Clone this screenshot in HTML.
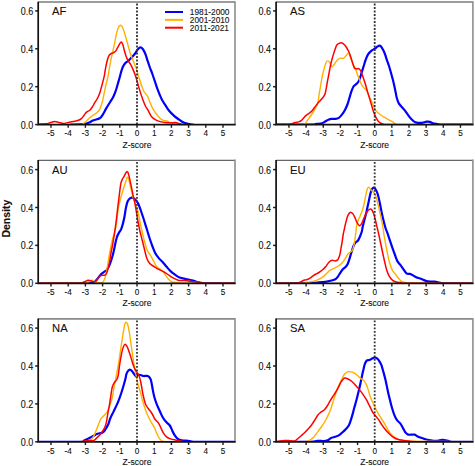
<!DOCTYPE html><html><head><meta charset="utf-8"><style>html,body{margin:0;padding:0;background:#fff}svg{display:block}text{font-family:"Liberation Sans",sans-serif;fill:#111;stroke:#111;stroke-width:0.1px}</style></head><body>
<svg width="475" height="466" viewBox="0 0 475 466">
<rect width="475" height="466" fill="#fff"/>
<g><path d="M38.20,2.00 H235.00" fill="none" stroke="#9c9c9c" stroke-width="1.80"/><path d="M235.00,1.20 V124.60" fill="none" stroke="#8e8e8e" stroke-width="1.6"/><clipPath id="cAF"><rect x="38.20" y="-8.00" width="196.80" height="132.60"/></clipPath><g clip-path="url(#cAF)"><path d="M70.80,124.60 C73.12,124.50 81.75,124.30 84.70,124.00 C87.65,123.70 87.02,123.42 88.50,122.80 C89.98,122.18 91.73,121.05 93.60,120.30 C95.47,119.55 98.15,119.28 99.70,118.30 C101.25,117.32 101.83,116.02 102.90,114.40 C103.97,112.78 104.92,110.63 106.10,108.60 C107.28,106.57 108.82,104.13 110.00,102.20 C111.18,100.27 112.23,98.93 113.20,97.00 C114.17,95.07 115.05,92.73 115.80,90.60 C116.55,88.47 117.07,86.35 117.70,84.20 C118.33,82.05 119.07,79.60 119.60,77.70 C120.13,75.80 120.37,74.58 120.90,72.80 C121.43,71.02 122.05,68.62 122.80,67.00 C123.55,65.38 124.43,64.17 125.40,63.10 C126.37,62.03 127.53,61.57 128.60,60.60 C129.67,59.63 130.72,58.48 131.80,57.30 C132.88,56.12 134.13,54.78 135.10,53.50 C136.07,52.22 136.75,50.62 137.60,49.60 C138.45,48.58 139.33,47.50 140.20,47.40 C141.07,47.30 141.97,47.98 142.80,49.00 C143.63,50.02 144.48,51.78 145.20,53.50 C145.92,55.22 146.35,57.05 147.10,59.30 C147.85,61.55 148.85,64.63 149.70,67.00 C150.55,69.37 151.35,71.13 152.20,73.50 C153.05,75.87 153.93,78.63 154.80,81.20 C155.67,83.77 156.53,86.53 157.40,88.90 C158.27,91.27 159.22,93.53 160.00,95.40 C160.78,97.27 161.22,98.47 162.10,100.10 C162.98,101.73 164.13,103.42 165.30,105.20 C166.47,106.98 167.63,109.02 169.10,110.80 C170.57,112.58 172.42,114.42 174.10,115.90 C175.78,117.38 177.62,118.58 179.20,119.70 C180.78,120.82 182.13,121.90 183.60,122.60 C185.07,123.30 186.43,123.57 188.00,123.90 C189.57,124.23 192.17,124.48 193.00,124.60" fill="none" stroke="#0000ff" stroke-width="2.20" stroke-linejoin="round" stroke-linecap="round"/><path d="M82.80,124.00 C83.33,123.58 84.83,122.55 86.00,121.50 C87.17,120.45 88.70,118.67 89.80,117.70 C90.90,116.73 91.50,116.47 92.60,115.70 C93.70,114.93 95.22,114.17 96.40,113.10 C97.58,112.03 98.73,111.12 99.70,109.30 C100.67,107.48 101.45,104.88 102.20,102.20 C102.95,99.52 103.55,96.20 104.20,93.20 C104.85,90.20 105.47,87.00 106.10,84.20 C106.73,81.40 107.47,78.95 108.00,76.40 C108.53,73.85 108.77,71.87 109.30,68.90 C109.83,65.93 110.55,61.82 111.20,58.60 C111.85,55.38 112.55,52.60 113.20,49.60 C113.85,46.60 114.47,43.60 115.10,40.60 C115.73,37.60 116.35,33.97 117.00,31.60 C117.65,29.23 118.40,27.47 119.00,26.40 C119.60,25.33 120.03,25.08 120.60,25.20 C121.17,25.32 121.82,26.03 122.40,27.10 C122.98,28.17 123.50,29.78 124.10,31.60 C124.70,33.42 125.35,35.75 126.00,38.00 C126.65,40.25 127.35,42.73 128.00,45.10 C128.65,47.47 129.27,50.17 129.90,52.20 C130.53,54.23 131.05,55.37 131.80,57.30 C132.55,59.23 133.63,61.87 134.40,63.80 C135.17,65.73 135.75,66.97 136.40,68.90 C137.05,70.83 137.70,73.47 138.30,75.40 C138.90,77.33 139.40,78.67 140.00,80.50 C140.60,82.33 141.25,84.57 141.90,86.40 C142.55,88.23 143.15,90.12 143.90,91.50 C144.65,92.88 145.68,93.68 146.40,94.70 C147.12,95.72 147.58,96.28 148.20,97.60 C148.82,98.92 149.37,100.82 150.10,102.60 C150.83,104.38 151.55,106.40 152.60,108.30 C153.65,110.20 155.13,112.32 156.40,114.00 C157.67,115.68 159.03,117.35 160.20,118.40 C161.37,119.45 162.23,119.87 163.40,120.30 C164.57,120.73 166.05,120.62 167.20,121.00 C168.35,121.38 168.93,122.18 170.30,122.60 C171.67,123.02 173.72,123.28 175.40,123.50 C177.08,123.72 179.57,123.83 180.40,123.90" fill="none" stroke="#ffb000" stroke-width="1.40" stroke-linejoin="round" stroke-linecap="round"/><path d="M38.50,124.00 C39.68,123.97 43.68,124.00 45.60,123.80 C47.52,123.60 48.53,123.18 50.00,122.80 C51.47,122.42 52.93,121.57 54.40,121.50 C55.87,121.43 57.32,122.08 58.80,122.40 C60.28,122.72 61.72,123.38 63.30,123.40 C64.88,123.42 66.62,122.82 68.30,122.50 C69.98,122.18 71.72,121.87 73.40,121.50 C75.08,121.13 77.03,120.82 78.40,120.30 C79.77,119.78 80.65,119.25 81.60,118.40 C82.55,117.55 83.27,116.25 84.10,115.20 C84.93,114.15 85.65,112.93 86.60,112.10 C87.55,111.27 88.85,111.05 89.80,110.20 C90.75,109.35 91.47,108.27 92.30,107.00 C93.13,105.73 94.00,103.93 94.80,102.60 C95.60,101.27 96.28,100.57 97.10,99.00 C97.92,97.43 98.85,95.67 99.70,93.20 C100.55,90.73 101.45,87.00 102.20,84.20 C102.95,81.40 103.72,78.60 104.20,76.40 C104.68,74.20 104.70,73.23 105.10,71.00 C105.50,68.77 106.03,65.40 106.60,63.00 C107.17,60.60 107.83,58.12 108.50,56.60 C109.17,55.08 109.82,54.53 110.60,53.90 C111.38,53.27 112.33,53.30 113.20,52.80 C114.07,52.30 114.95,51.97 115.80,50.90 C116.65,49.83 117.45,47.87 118.30,46.40 C119.15,44.93 120.15,42.42 120.90,42.10 C121.65,41.78 122.27,43.25 122.80,44.50 C123.33,45.75 123.57,47.68 124.10,49.60 C124.63,51.52 125.35,54.17 126.00,56.00 C126.65,57.83 127.23,59.20 128.00,60.60 C128.77,62.00 129.75,62.90 130.60,64.40 C131.45,65.90 132.25,67.60 133.10,69.60 C133.95,71.60 134.95,74.18 135.70,76.40 C136.45,78.62 136.85,80.32 137.60,82.90 C138.35,85.48 139.33,89.12 140.20,91.90 C141.07,94.68 141.93,97.25 142.80,99.60 C143.67,101.95 144.55,104.28 145.40,106.00 C146.25,107.72 146.90,108.15 147.90,109.90 C148.90,111.65 150.18,114.87 151.40,116.50 C152.62,118.13 153.73,118.85 155.20,119.70 C156.67,120.55 158.52,121.12 160.20,121.60 C161.88,122.08 163.62,122.40 165.30,122.60 C166.98,122.80 168.62,122.80 170.30,122.80 C171.98,122.80 173.72,122.42 175.40,122.60 C177.08,122.78 178.93,123.57 180.40,123.90 C181.87,124.23 183.57,124.48 184.20,124.60" fill="none" stroke="#ff0000" stroke-width="1.50" stroke-linejoin="round" stroke-linecap="round"/></g><line x1="137.00" y1="3.50" x2="137.00" y2="124.60" stroke="#333" stroke-width="1.8" stroke-dasharray="1.9 1.6"/><path d="M38.20,1.70 V124.60 H235.70" fill="none" stroke="#111" stroke-width="1.7"/><line x1="35.20" y1="124.60" x2="38.20" y2="124.60" stroke="#1a1a1a" stroke-width="1.5"/><text transform="translate(33.20,128.60) scale(1,1.12)" font-size="9" text-anchor="end">0.0</text><line x1="35.20" y1="86.70" x2="38.20" y2="86.70" stroke="#1a1a1a" stroke-width="1.5"/><text transform="translate(33.20,90.70) scale(1,1.12)" font-size="9" text-anchor="end">0.2</text><line x1="35.20" y1="48.80" x2="38.20" y2="48.80" stroke="#1a1a1a" stroke-width="1.5"/><text transform="translate(33.20,52.80) scale(1,1.12)" font-size="9" text-anchor="end">0.4</text><line x1="35.20" y1="10.90" x2="38.20" y2="10.90" stroke="#1a1a1a" stroke-width="1.5"/><text transform="translate(33.20,14.90) scale(1,1.12)" font-size="9" text-anchor="end">0.6</text><line x1="51.00" y1="124.60" x2="51.00" y2="127.80" stroke="#1a1a1a" stroke-width="1.4"/><text x="51.00" y="136.40" font-size="8.2" text-anchor="middle">-5</text><line x1="68.20" y1="124.60" x2="68.20" y2="127.80" stroke="#1a1a1a" stroke-width="1.4"/><text x="68.20" y="136.40" font-size="8.2" text-anchor="middle">-4</text><line x1="85.40" y1="124.60" x2="85.40" y2="127.80" stroke="#1a1a1a" stroke-width="1.4"/><text x="85.40" y="136.40" font-size="8.2" text-anchor="middle">-3</text><line x1="102.60" y1="124.60" x2="102.60" y2="127.80" stroke="#1a1a1a" stroke-width="1.4"/><text x="102.60" y="136.40" font-size="8.2" text-anchor="middle">-2</text><line x1="119.80" y1="124.60" x2="119.80" y2="127.80" stroke="#1a1a1a" stroke-width="1.4"/><text x="119.80" y="136.40" font-size="8.2" text-anchor="middle">-1</text><line x1="137.00" y1="124.60" x2="137.00" y2="127.80" stroke="#1a1a1a" stroke-width="1.4"/><text x="137.00" y="136.40" font-size="8.2" text-anchor="middle">0</text><line x1="154.20" y1="124.60" x2="154.20" y2="127.80" stroke="#1a1a1a" stroke-width="1.4"/><text x="154.20" y="136.40" font-size="8.2" text-anchor="middle">1</text><line x1="171.40" y1="124.60" x2="171.40" y2="127.80" stroke="#1a1a1a" stroke-width="1.4"/><text x="171.40" y="136.40" font-size="8.2" text-anchor="middle">2</text><line x1="188.60" y1="124.60" x2="188.60" y2="127.80" stroke="#1a1a1a" stroke-width="1.4"/><text x="188.60" y="136.40" font-size="8.2" text-anchor="middle">3</text><line x1="205.80" y1="124.60" x2="205.80" y2="127.80" stroke="#1a1a1a" stroke-width="1.4"/><text x="205.80" y="136.40" font-size="8.2" text-anchor="middle">4</text><line x1="223.00" y1="124.60" x2="223.00" y2="127.80" stroke="#1a1a1a" stroke-width="1.4"/><text x="223.00" y="136.40" font-size="8.2" text-anchor="middle">5</text><text x="137.00" y="147.60" font-size="8.5" text-anchor="middle">Z-score</text><text x="52.10" y="15.20" font-size="11.2">AF</text></g>
<g><path d="M276.10,2.00 H472.90" fill="none" stroke="#9c9c9c" stroke-width="1.80"/><path d="M472.90,1.20 V124.60" fill="none" stroke="#8e8e8e" stroke-width="1.6"/><clipPath id="cAS"><rect x="276.10" y="-8.00" width="196.80" height="132.60"/></clipPath><g clip-path="url(#cAS)"><path d="M276.50,124.60 C282.08,124.60 303.35,124.72 310.00,124.60 C316.65,124.48 314.42,124.13 316.40,123.90 C318.38,123.67 320.43,123.60 321.90,123.20 C323.37,122.80 324.12,122.08 325.20,121.50 C326.28,120.92 327.32,120.13 328.40,119.70 C329.48,119.27 330.60,119.03 331.70,118.90 C332.80,118.77 333.82,119.07 335.00,118.90 C336.18,118.73 337.65,118.60 338.80,117.90 C339.95,117.20 340.85,116.07 341.90,114.70 C342.95,113.33 344.15,111.48 345.10,109.70 C346.05,107.92 346.87,106.00 347.60,104.00 C348.33,102.00 348.87,99.80 349.50,97.70 C350.13,95.60 350.73,93.27 351.40,91.40 C352.07,89.53 352.77,87.65 353.50,86.50 C354.23,85.35 355.02,85.25 355.80,84.50 C356.58,83.75 357.50,83.08 358.20,82.00 C358.90,80.92 359.42,79.62 360.00,78.00 C360.58,76.38 361.08,74.30 361.70,72.30 C362.32,70.30 363.05,68.05 363.70,66.00 C364.35,63.95 364.85,61.97 365.60,60.00 C366.35,58.03 367.20,55.77 368.20,54.20 C369.20,52.63 370.50,51.52 371.60,50.60 C372.70,49.68 373.83,49.35 374.80,48.70 C375.77,48.05 376.65,47.20 377.40,46.70 C378.15,46.20 378.67,45.70 379.30,45.70 C379.93,45.70 380.55,45.98 381.20,46.70 C381.85,47.42 382.55,48.70 383.20,50.00 C383.85,51.30 384.47,52.78 385.10,54.50 C385.73,56.22 386.35,58.38 387.00,60.30 C387.65,62.22 388.35,63.97 389.00,66.00 C389.65,68.03 390.27,70.23 390.90,72.50 C391.53,74.77 392.22,77.30 392.80,79.60 C393.38,81.90 393.92,84.13 394.40,86.30 C394.88,88.47 395.28,90.60 395.70,92.60 C396.12,94.60 396.38,96.50 396.90,98.30 C397.42,100.10 397.95,101.92 398.80,103.40 C399.65,104.88 400.93,105.95 402.00,107.20 C403.07,108.45 404.15,109.53 405.20,110.90 C406.25,112.27 407.25,114.02 408.30,115.40 C409.35,116.78 410.33,118.05 411.50,119.20 C412.67,120.35 414.03,121.68 415.30,122.30 C416.57,122.92 417.85,122.83 419.10,122.90 C420.35,122.97 421.55,122.90 422.80,122.70 C424.05,122.50 425.43,121.83 426.60,121.70 C427.77,121.57 428.75,121.63 429.80,121.90 C430.85,122.17 431.63,122.95 432.90,123.30 C434.17,123.65 435.72,123.78 437.40,124.00 C439.08,124.22 437.23,124.50 443.00,124.60 C448.77,124.70 467.17,124.60 472.00,124.60" fill="none" stroke="#0000ff" stroke-width="2.20" stroke-linejoin="round" stroke-linecap="round"/><path d="M297.00,124.60 C297.83,124.60 300.68,124.75 302.00,124.60 C303.32,124.45 303.95,124.48 304.90,123.70 C305.85,122.92 306.70,121.27 307.70,119.90 C308.70,118.53 309.90,116.97 310.90,115.50 C311.90,114.03 312.78,112.65 313.70,111.10 C314.62,109.55 315.67,107.83 316.40,106.20 C317.13,104.57 317.65,103.22 318.10,101.30 C318.55,99.38 318.75,96.90 319.10,94.70 C319.45,92.50 319.83,90.28 320.20,88.10 C320.57,85.92 320.92,83.78 321.30,81.60 C321.68,79.42 322.02,77.17 322.50,75.00 C322.98,72.83 323.60,70.73 324.20,68.60 C324.80,66.47 325.47,63.48 326.10,62.20 C326.73,60.92 327.35,60.80 328.00,60.90 C328.65,61.00 329.35,61.83 330.00,62.80 C330.65,63.77 331.27,66.33 331.90,66.70 C332.53,67.07 333.17,65.75 333.80,65.00 C334.43,64.25 334.95,63.20 335.70,62.20 C336.45,61.20 337.43,59.68 338.30,59.00 C339.17,58.32 340.03,58.22 340.90,58.10 C341.77,57.98 342.65,58.70 343.50,58.30 C344.35,57.90 345.18,56.55 346.00,55.70 C346.82,54.85 347.63,52.87 348.40,53.20 C349.17,53.53 349.82,55.88 350.60,57.70 C351.38,59.52 352.25,62.17 353.10,64.10 C353.95,66.03 354.95,67.47 355.70,69.30 C356.45,71.13 356.95,73.38 357.60,75.10 C358.25,76.82 358.95,78.02 359.60,79.60 C360.25,81.18 360.77,83.20 361.50,84.60 C362.23,86.00 363.15,87.03 364.00,88.00 C364.85,88.97 365.75,89.00 366.60,90.40 C367.45,91.80 368.27,94.55 369.10,96.40 C369.93,98.25 370.75,99.70 371.60,101.50 C372.45,103.30 373.35,105.52 374.20,107.20 C375.05,108.88 375.65,110.35 376.70,111.60 C377.75,112.85 379.03,113.65 380.50,114.70 C381.97,115.75 383.87,116.92 385.50,117.90 C387.13,118.88 389.13,119.97 390.30,120.60 C391.47,121.23 391.60,121.13 392.50,121.70 C393.40,122.27 394.45,123.52 395.70,124.00 C396.95,124.48 387.28,124.50 400.00,124.60 C412.72,124.70 460.00,124.60 472.00,124.60" fill="none" stroke="#ffb000" stroke-width="1.40" stroke-linejoin="round" stroke-linecap="round"/><path d="M276.50,124.60 C277.92,124.60 282.98,124.60 285.00,124.60 C287.02,124.60 287.43,124.77 288.60,124.60 C289.77,124.43 290.87,123.93 292.00,123.60 C293.13,123.27 294.28,122.88 295.40,122.60 C296.52,122.32 297.72,122.23 298.70,121.90 C299.68,121.57 300.48,121.25 301.30,120.60 C302.12,119.95 302.80,118.87 303.60,118.00 C304.40,117.13 305.22,116.15 306.10,115.40 C306.98,114.65 307.95,114.23 308.90,113.50 C309.85,112.77 310.90,111.95 311.80,111.00 C312.70,110.05 313.38,108.98 314.30,107.80 C315.22,106.62 316.30,105.12 317.30,103.90 C318.30,102.68 319.35,101.58 320.30,100.50 C321.25,99.42 322.22,98.48 323.00,97.40 C323.78,96.32 324.45,95.55 325.00,94.00 C325.55,92.45 325.90,90.17 326.30,88.10 C326.70,86.03 327.00,83.78 327.40,81.60 C327.80,79.42 328.30,77.10 328.70,75.00 C329.10,72.90 329.38,71.13 329.80,69.00 C330.22,66.87 330.63,64.52 331.20,62.20 C331.77,59.88 332.55,57.25 333.20,55.10 C333.85,52.95 334.47,51.02 335.10,49.30 C335.73,47.58 336.13,45.87 337.00,44.80 C337.87,43.73 339.22,43.05 340.30,42.90 C341.38,42.75 342.55,43.27 343.50,43.90 C344.45,44.53 345.15,45.48 346.00,46.70 C346.85,47.92 347.83,49.58 348.60,51.20 C349.37,52.82 349.95,54.47 350.60,56.40 C351.25,58.33 351.87,60.87 352.50,62.80 C353.13,64.73 353.75,66.98 354.40,68.00 C355.05,69.02 355.68,68.80 356.40,68.90 C357.12,69.00 357.95,68.22 358.70,68.60 C359.45,68.98 360.22,69.90 360.90,71.20 C361.58,72.50 362.17,74.58 362.80,76.40 C363.43,78.22 364.17,80.45 364.70,82.10 C365.23,83.75 365.48,84.55 366.00,86.30 C366.52,88.05 367.18,90.50 367.80,92.60 C368.42,94.70 369.07,96.78 369.70,98.90 C370.33,101.02 370.97,103.18 371.60,105.30 C372.23,107.42 372.75,109.50 373.50,111.60 C374.25,113.70 375.15,116.12 376.10,117.90 C377.05,119.68 378.05,121.28 379.20,122.30 C380.35,123.32 381.53,123.62 383.00,124.00 C384.47,124.38 373.17,124.50 388.00,124.60 C402.83,124.70 458.00,124.60 472.00,124.60" fill="none" stroke="#ff0000" stroke-width="1.50" stroke-linejoin="round" stroke-linecap="round"/></g><line x1="374.70" y1="3.50" x2="374.70" y2="124.60" stroke="#333" stroke-width="1.8" stroke-dasharray="1.9 1.6"/><path d="M276.10,1.70 V124.60 H473.60" fill="none" stroke="#111" stroke-width="1.7"/><line x1="273.10" y1="124.60" x2="276.10" y2="124.60" stroke="#1a1a1a" stroke-width="1.5"/><text transform="translate(271.10,128.60) scale(1,1.12)" font-size="9" text-anchor="end">0.0</text><line x1="273.10" y1="86.70" x2="276.10" y2="86.70" stroke="#1a1a1a" stroke-width="1.5"/><text transform="translate(271.10,90.70) scale(1,1.12)" font-size="9" text-anchor="end">0.2</text><line x1="273.10" y1="48.80" x2="276.10" y2="48.80" stroke="#1a1a1a" stroke-width="1.5"/><text transform="translate(271.10,52.80) scale(1,1.12)" font-size="9" text-anchor="end">0.4</text><line x1="273.10" y1="10.90" x2="276.10" y2="10.90" stroke="#1a1a1a" stroke-width="1.5"/><text transform="translate(271.10,14.90) scale(1,1.12)" font-size="9" text-anchor="end">0.6</text><line x1="288.95" y1="124.60" x2="288.95" y2="127.80" stroke="#1a1a1a" stroke-width="1.4"/><text x="288.95" y="136.40" font-size="8.2" text-anchor="middle">-5</text><line x1="306.10" y1="124.60" x2="306.10" y2="127.80" stroke="#1a1a1a" stroke-width="1.4"/><text x="306.10" y="136.40" font-size="8.2" text-anchor="middle">-4</text><line x1="323.25" y1="124.60" x2="323.25" y2="127.80" stroke="#1a1a1a" stroke-width="1.4"/><text x="323.25" y="136.40" font-size="8.2" text-anchor="middle">-3</text><line x1="340.40" y1="124.60" x2="340.40" y2="127.80" stroke="#1a1a1a" stroke-width="1.4"/><text x="340.40" y="136.40" font-size="8.2" text-anchor="middle">-2</text><line x1="357.55" y1="124.60" x2="357.55" y2="127.80" stroke="#1a1a1a" stroke-width="1.4"/><text x="357.55" y="136.40" font-size="8.2" text-anchor="middle">-1</text><line x1="374.70" y1="124.60" x2="374.70" y2="127.80" stroke="#1a1a1a" stroke-width="1.4"/><text x="374.70" y="136.40" font-size="8.2" text-anchor="middle">0</text><line x1="391.85" y1="124.60" x2="391.85" y2="127.80" stroke="#1a1a1a" stroke-width="1.4"/><text x="391.85" y="136.40" font-size="8.2" text-anchor="middle">1</text><line x1="409.00" y1="124.60" x2="409.00" y2="127.80" stroke="#1a1a1a" stroke-width="1.4"/><text x="409.00" y="136.40" font-size="8.2" text-anchor="middle">2</text><line x1="426.15" y1="124.60" x2="426.15" y2="127.80" stroke="#1a1a1a" stroke-width="1.4"/><text x="426.15" y="136.40" font-size="8.2" text-anchor="middle">3</text><line x1="443.30" y1="124.60" x2="443.30" y2="127.80" stroke="#1a1a1a" stroke-width="1.4"/><text x="443.30" y="136.40" font-size="8.2" text-anchor="middle">4</text><line x1="460.45" y1="124.60" x2="460.45" y2="127.80" stroke="#1a1a1a" stroke-width="1.4"/><text x="460.45" y="136.40" font-size="8.2" text-anchor="middle">5</text><text x="374.70" y="147.60" font-size="8.5" text-anchor="middle">Z-score</text><text x="290.00" y="15.20" font-size="11.2">AS</text></g>
<g><path d="M38.20,160.40 H235.00" fill="none" stroke="#666" stroke-width="1.30"/><path d="M235.00,159.60 V283.30" fill="none" stroke="#8e8e8e" stroke-width="1.6"/><clipPath id="cAU"><rect x="38.20" y="150.40" width="196.80" height="132.90"/></clipPath><g clip-path="url(#cAU)"><path d="M38.50,283.30 C46.25,283.30 76.53,283.30 85.00,283.30 C93.47,283.30 87.73,283.53 89.30,283.30 C90.87,283.07 93.07,282.62 94.40,281.90 C95.73,281.18 96.40,280.05 97.30,279.00 C98.20,277.95 98.95,276.58 99.80,275.60 C100.65,274.62 101.55,273.80 102.40,273.10 C103.25,272.40 104.20,271.88 104.90,271.40 C105.60,270.92 106.03,270.83 106.60,270.20 C107.17,269.57 107.67,268.87 108.30,267.60 C108.93,266.33 109.77,264.28 110.40,262.60 C111.03,260.92 111.63,259.02 112.10,257.50 C112.57,255.98 112.83,254.98 113.20,253.50 C113.57,252.02 113.90,250.48 114.30,248.60 C114.70,246.72 115.15,244.17 115.60,242.20 C116.05,240.23 116.42,238.42 117.00,236.80 C117.58,235.18 118.38,233.83 119.10,232.50 C119.82,231.17 120.63,230.40 121.30,228.80 C121.97,227.20 122.55,225.03 123.10,222.90 C123.65,220.77 124.15,218.40 124.60,216.00 C125.05,213.60 125.33,210.83 125.80,208.50 C126.27,206.17 126.78,203.62 127.40,202.00 C128.02,200.38 128.78,199.53 129.50,198.80 C130.22,198.07 130.98,197.68 131.70,197.60 C132.42,197.52 133.03,197.77 133.80,198.30 C134.57,198.83 135.53,199.85 136.30,200.80 C137.07,201.75 137.65,202.38 138.40,204.00 C139.15,205.62 139.95,208.08 140.80,210.50 C141.65,212.92 142.53,215.50 143.50,218.50 C144.47,221.50 145.57,225.17 146.60,228.50 C147.63,231.83 148.72,235.50 149.70,238.50 C150.68,241.50 151.57,244.05 152.50,246.50 C153.43,248.95 154.22,251.22 155.30,253.20 C156.38,255.18 157.75,256.90 159.00,258.40 C160.25,259.90 161.53,260.80 162.80,262.20 C164.07,263.60 165.32,265.32 166.60,266.80 C167.88,268.28 169.10,269.78 170.50,271.10 C171.90,272.42 173.48,273.63 175.00,274.70 C176.52,275.77 177.82,276.78 179.60,277.50 C181.38,278.22 183.67,278.55 185.70,279.00 C187.73,279.45 190.03,279.75 191.80,280.20 C193.57,280.65 194.93,281.32 196.30,281.70 C197.67,282.08 198.38,282.23 200.00,282.50 C201.62,282.77 200.33,283.17 206.00,283.30 C211.67,283.43 229.33,283.30 234.00,283.30" fill="none" stroke="#0000ff" stroke-width="2.20" stroke-linejoin="round" stroke-linecap="round"/><path d="M38.50,283.30 C46.08,283.30 76.08,283.30 84.00,283.30 C91.92,283.30 85.25,283.55 86.00,283.30 C86.75,283.05 87.60,282.30 88.50,281.80 C89.40,281.30 90.48,280.35 91.40,280.30 C92.32,280.25 93.08,281.15 94.00,281.50 C94.92,281.85 95.85,282.22 96.90,282.40 C97.95,282.58 99.38,282.60 100.30,282.60 C101.22,282.60 101.77,282.78 102.40,282.40 C103.03,282.02 103.62,281.22 104.10,280.30 C104.58,279.38 104.88,278.45 105.30,276.90 C105.72,275.35 106.18,273.10 106.60,271.00 C107.02,268.90 107.45,266.40 107.80,264.30 C108.15,262.20 108.33,260.65 108.70,258.40 C109.07,256.15 109.52,253.32 110.00,250.80 C110.48,248.28 111.07,245.63 111.60,243.30 C112.13,240.97 112.57,239.13 113.20,236.80 C113.83,234.47 114.80,231.93 115.40,229.30 C116.00,226.67 116.40,223.88 116.80,221.00 C117.20,218.12 117.47,214.53 117.80,212.00 C118.13,209.47 118.28,208.27 118.80,205.80 C119.32,203.33 120.18,199.88 120.90,197.20 C121.62,194.52 122.38,192.03 123.10,189.70 C123.82,187.37 124.58,185.08 125.20,183.20 C125.82,181.32 126.38,179.43 126.80,178.40 C127.22,177.37 127.37,176.82 127.70,177.00 C128.03,177.18 128.42,178.20 128.80,179.50 C129.18,180.80 129.52,182.75 130.00,184.80 C130.48,186.85 131.15,189.55 131.70,191.80 C132.25,194.05 132.72,196.35 133.30,198.30 C133.88,200.25 134.48,201.55 135.20,203.50 C135.92,205.45 136.95,207.75 137.60,210.00 C138.25,212.25 138.60,214.50 139.10,217.00 C139.60,219.50 140.05,222.42 140.60,225.00 C141.15,227.58 141.75,229.75 142.40,232.50 C143.05,235.25 143.70,238.53 144.50,241.50 C145.30,244.47 146.18,247.95 147.20,250.30 C148.22,252.65 149.53,253.82 150.60,255.60 C151.67,257.38 152.57,259.13 153.60,261.00 C154.63,262.87 155.52,265.32 156.80,266.80 C158.08,268.28 159.92,268.63 161.30,269.90 C162.68,271.17 163.95,272.88 165.10,274.40 C166.25,275.92 167.05,277.73 168.20,279.00 C169.35,280.27 170.35,281.40 172.00,282.00 C173.65,282.60 175.93,282.38 178.10,282.60 C180.27,282.82 175.68,283.18 185.00,283.30 C194.32,283.42 225.83,283.30 234.00,283.30" fill="none" stroke="#ffb000" stroke-width="1.40" stroke-linejoin="round" stroke-linecap="round"/><path d="M38.50,283.30 C45.42,283.30 72.65,283.42 80.00,283.30 C87.35,283.18 81.75,282.90 82.60,282.60 C83.45,282.30 84.18,281.88 85.10,281.50 C86.02,281.12 87.18,280.43 88.10,280.30 C89.02,280.17 89.77,280.45 90.60,280.70 C91.43,280.95 92.33,281.67 93.10,281.80 C93.87,281.93 94.50,281.97 95.20,281.50 C95.90,281.03 96.60,279.83 97.30,279.00 C98.00,278.17 98.63,277.13 99.40,276.50 C100.17,275.87 101.05,275.42 101.90,275.20 C102.75,274.98 103.78,275.42 104.50,275.20 C105.22,274.98 105.72,274.60 106.20,273.90 C106.68,273.20 106.98,272.33 107.40,271.00 C107.82,269.67 108.28,267.72 108.70,265.90 C109.12,264.08 109.52,262.25 109.90,260.10 C110.28,257.95 110.53,255.63 111.00,253.00 C111.47,250.37 112.18,247.17 112.70,244.30 C113.22,241.43 113.65,238.65 114.10,235.80 C114.55,232.95 115.00,230.07 115.40,227.20 C115.80,224.33 116.12,221.82 116.50,218.60 C116.88,215.38 117.32,211.12 117.70,207.90 C118.08,204.68 118.45,202.15 118.80,199.30 C119.15,196.45 119.45,193.48 119.80,190.80 C120.15,188.12 120.45,185.18 120.90,183.20 C121.35,181.22 121.97,180.05 122.50,178.90 C123.03,177.75 123.55,177.28 124.10,176.30 C124.65,175.32 125.32,173.82 125.80,173.00 C126.28,172.18 126.62,171.45 127.00,171.40 C127.38,171.35 127.73,171.80 128.10,172.70 C128.47,173.60 128.78,175.05 129.20,176.80 C129.62,178.55 130.10,180.87 130.60,183.20 C131.10,185.53 131.72,188.42 132.20,190.80 C132.68,193.18 133.07,195.55 133.50,197.50 C133.93,199.45 134.33,200.17 134.80,202.50 C135.27,204.83 135.80,208.50 136.30,211.50 C136.80,214.50 137.18,217.17 137.80,220.50 C138.42,223.83 139.25,228.17 140.00,231.50 C140.75,234.83 141.55,237.50 142.30,240.50 C143.05,243.50 143.75,246.53 144.50,249.50 C145.25,252.47 145.92,255.95 146.80,258.30 C147.68,260.65 148.52,262.18 149.80,263.60 C151.08,265.02 152.83,265.75 154.50,266.80 C156.17,267.85 158.15,269.02 159.80,269.90 C161.45,270.78 162.88,271.22 164.40,272.10 C165.92,272.98 167.38,274.18 168.90,275.20 C170.42,276.22 171.97,277.37 173.50,278.20 C175.03,279.03 176.58,279.82 178.10,280.20 C179.62,280.58 181.08,280.40 182.60,280.50 C184.12,280.60 185.55,280.60 187.20,280.80 C188.85,281.00 190.72,281.50 192.50,281.70 C194.28,281.90 196.15,281.73 197.90,282.00 C199.65,282.27 200.98,283.08 203.00,283.30 C205.02,283.52 204.83,283.30 210.00,283.30 C215.17,283.30 230.00,283.30 234.00,283.30" fill="none" stroke="#ff0000" stroke-width="1.50" stroke-linejoin="round" stroke-linecap="round"/></g><line x1="137.00" y1="161.90" x2="137.00" y2="283.30" stroke="#333" stroke-width="1.8" stroke-dasharray="1.9 1.6"/><path d="M38.20,160.10 V283.30 H235.70" fill="none" stroke="#111" stroke-width="1.7"/><line x1="35.20" y1="283.30" x2="38.20" y2="283.30" stroke="#1a1a1a" stroke-width="1.5"/><text transform="translate(33.20,287.30) scale(1,1.12)" font-size="9" text-anchor="end">0.0</text><line x1="35.20" y1="245.40" x2="38.20" y2="245.40" stroke="#1a1a1a" stroke-width="1.5"/><text transform="translate(33.20,249.40) scale(1,1.12)" font-size="9" text-anchor="end">0.2</text><line x1="35.20" y1="207.50" x2="38.20" y2="207.50" stroke="#1a1a1a" stroke-width="1.5"/><text transform="translate(33.20,211.50) scale(1,1.12)" font-size="9" text-anchor="end">0.4</text><line x1="35.20" y1="169.60" x2="38.20" y2="169.60" stroke="#1a1a1a" stroke-width="1.5"/><text transform="translate(33.20,173.60) scale(1,1.12)" font-size="9" text-anchor="end">0.6</text><line x1="51.00" y1="283.30" x2="51.00" y2="286.50" stroke="#1a1a1a" stroke-width="1.4"/><text x="51.00" y="295.10" font-size="8.2" text-anchor="middle">-5</text><line x1="68.20" y1="283.30" x2="68.20" y2="286.50" stroke="#1a1a1a" stroke-width="1.4"/><text x="68.20" y="295.10" font-size="8.2" text-anchor="middle">-4</text><line x1="85.40" y1="283.30" x2="85.40" y2="286.50" stroke="#1a1a1a" stroke-width="1.4"/><text x="85.40" y="295.10" font-size="8.2" text-anchor="middle">-3</text><line x1="102.60" y1="283.30" x2="102.60" y2="286.50" stroke="#1a1a1a" stroke-width="1.4"/><text x="102.60" y="295.10" font-size="8.2" text-anchor="middle">-2</text><line x1="119.80" y1="283.30" x2="119.80" y2="286.50" stroke="#1a1a1a" stroke-width="1.4"/><text x="119.80" y="295.10" font-size="8.2" text-anchor="middle">-1</text><line x1="137.00" y1="283.30" x2="137.00" y2="286.50" stroke="#1a1a1a" stroke-width="1.4"/><text x="137.00" y="295.10" font-size="8.2" text-anchor="middle">0</text><line x1="154.20" y1="283.30" x2="154.20" y2="286.50" stroke="#1a1a1a" stroke-width="1.4"/><text x="154.20" y="295.10" font-size="8.2" text-anchor="middle">1</text><line x1="171.40" y1="283.30" x2="171.40" y2="286.50" stroke="#1a1a1a" stroke-width="1.4"/><text x="171.40" y="295.10" font-size="8.2" text-anchor="middle">2</text><line x1="188.60" y1="283.30" x2="188.60" y2="286.50" stroke="#1a1a1a" stroke-width="1.4"/><text x="188.60" y="295.10" font-size="8.2" text-anchor="middle">3</text><line x1="205.80" y1="283.30" x2="205.80" y2="286.50" stroke="#1a1a1a" stroke-width="1.4"/><text x="205.80" y="295.10" font-size="8.2" text-anchor="middle">4</text><line x1="223.00" y1="283.30" x2="223.00" y2="286.50" stroke="#1a1a1a" stroke-width="1.4"/><text x="223.00" y="295.10" font-size="8.2" text-anchor="middle">5</text><text x="137.00" y="306.30" font-size="8.5" text-anchor="middle">Z-score</text><text x="52.10" y="173.60" font-size="11.2">AU</text></g>
<g><path d="M276.10,160.40 H472.90" fill="none" stroke="#666" stroke-width="1.30"/><path d="M472.90,159.60 V283.30" fill="none" stroke="#8e8e8e" stroke-width="1.6"/><clipPath id="cEU"><rect x="276.10" y="150.40" width="196.80" height="132.90"/></clipPath><g clip-path="url(#cEU)"><path d="M276.50,283.30 C281.25,283.30 298.15,283.43 305.00,283.30 C311.85,283.17 314.23,282.75 317.60,282.50 C320.97,282.25 322.88,282.13 325.20,281.80 C327.52,281.47 329.82,280.92 331.50,280.50 C333.18,280.08 334.25,279.93 335.30,279.30 C336.35,278.67 336.97,277.77 337.80,276.70 C338.63,275.63 339.47,274.15 340.30,272.90 C341.13,271.65 341.85,270.25 342.80,269.20 C343.75,268.15 345.15,267.55 346.00,266.60 C346.85,265.65 347.27,264.97 347.90,263.50 C348.53,262.03 349.17,259.80 349.80,257.80 C350.43,255.80 351.07,253.50 351.70,251.50 C352.33,249.50 352.97,247.28 353.60,245.80 C354.23,244.32 354.77,243.48 355.50,242.60 C356.23,241.72 357.25,241.52 358.00,240.50 C358.75,239.48 359.37,238.00 360.00,236.50 C360.63,235.00 361.33,233.20 361.80,231.50 C362.27,229.80 362.30,228.45 362.80,226.30 C363.30,224.15 364.15,221.17 364.80,218.60 C365.45,216.03 366.07,213.68 366.70,210.90 C367.33,208.12 367.95,204.90 368.60,201.90 C369.25,198.90 370.02,195.05 370.60,192.90 C371.18,190.75 371.57,189.88 372.10,189.00 C372.63,188.12 373.20,187.52 373.80,187.60 C374.40,187.68 375.05,188.43 375.70,189.50 C376.35,190.57 377.05,191.93 377.70,194.00 C378.35,196.07 378.95,198.87 379.60,201.90 C380.25,204.93 380.92,208.98 381.60,212.20 C382.28,215.42 383.05,218.57 383.70,221.20 C384.35,223.83 384.92,226.13 385.50,228.00 C386.08,229.87 386.48,230.37 387.20,232.40 C387.92,234.43 388.93,237.62 389.80,240.20 C390.67,242.78 391.53,245.43 392.40,247.90 C393.27,250.37 394.15,252.75 395.00,255.00 C395.85,257.25 396.55,259.68 397.50,261.40 C398.45,263.12 399.73,264.02 400.70,265.30 C401.67,266.58 402.33,267.75 403.30,269.10 C404.27,270.45 405.42,272.60 406.50,273.40 C407.58,274.20 408.83,273.65 409.80,273.90 C410.77,274.15 411.23,274.35 412.30,274.90 C413.37,275.45 414.90,276.60 416.20,277.20 C417.50,277.80 418.82,278.02 420.10,278.50 C421.38,278.98 422.62,279.62 423.90,280.10 C425.18,280.58 426.52,281.15 427.80,281.40 C429.08,281.65 430.40,281.57 431.60,281.60 C432.80,281.63 433.77,281.43 435.00,281.60 C436.23,281.77 437.33,282.32 439.00,282.60 C440.67,282.88 439.50,283.18 445.00,283.30 C450.50,283.42 467.50,283.30 472.00,283.30" fill="none" stroke="#0000ff" stroke-width="2.20" stroke-linejoin="round" stroke-linecap="round"/><path d="M276.50,283.30 C280.92,283.30 298.03,283.45 303.00,283.30 C307.97,283.15 305.18,282.62 306.30,282.40 C307.42,282.18 308.57,282.17 309.70,282.00 C310.83,281.83 312.05,281.63 313.10,281.40 C314.15,281.17 314.83,281.07 316.00,280.60 C317.17,280.13 318.78,279.35 320.10,278.60 C321.42,277.85 322.73,277.05 323.90,276.10 C325.07,275.15 326.05,273.88 327.10,272.90 C328.15,271.92 328.95,271.00 330.20,270.20 C331.45,269.40 333.23,268.80 334.60,268.10 C335.97,267.40 337.13,266.88 338.40,266.00 C339.67,265.12 341.03,264.07 342.20,262.80 C343.37,261.53 344.45,259.87 345.40,258.40 C346.35,256.93 346.95,255.15 347.90,254.00 C348.85,252.85 350.27,252.35 351.10,251.50 C351.93,250.65 352.38,250.17 352.90,248.90 C353.42,247.63 353.82,245.78 354.20,243.90 C354.58,242.02 354.88,239.92 355.20,237.60 C355.52,235.28 355.80,232.30 356.10,230.00 C356.40,227.70 356.52,225.70 357.00,223.80 C357.48,221.90 358.35,220.22 359.00,218.60 C359.65,216.98 360.27,215.70 360.90,214.10 C361.53,212.50 362.20,211.03 362.80,209.00 C363.40,206.97 363.97,204.37 364.50,201.90 C365.03,199.43 365.53,196.35 366.00,194.20 C366.47,192.05 366.87,190.18 367.30,189.00 C367.73,187.82 368.10,187.10 368.60,187.10 C369.10,187.10 369.62,188.25 370.30,189.00 C370.98,189.75 371.88,190.68 372.70,191.60 C373.52,192.52 374.47,193.00 375.20,194.50 C375.93,196.00 376.43,198.08 377.10,200.60 C377.77,203.12 378.47,206.38 379.20,209.60 C379.93,212.82 380.83,216.67 381.50,219.90 C382.17,223.13 382.78,226.48 383.20,229.00 C383.62,231.52 383.55,232.28 384.00,235.00 C384.45,237.72 385.25,241.87 385.90,245.30 C386.55,248.73 387.25,252.60 387.90,255.60 C388.55,258.60 389.05,260.83 389.80,263.30 C390.55,265.77 391.43,268.57 392.40,270.40 C393.37,272.23 394.53,272.90 395.60,274.30 C396.67,275.70 397.73,277.58 398.80,278.80 C399.87,280.02 400.82,280.97 402.00,281.60 C403.18,282.23 404.23,282.32 405.90,282.60 C407.57,282.88 400.98,283.18 412.00,283.30 C423.02,283.42 462.00,283.30 472.00,283.30" fill="none" stroke="#ffb000" stroke-width="1.40" stroke-linejoin="round" stroke-linecap="round"/><path d="M276.50,283.30 C279.58,283.30 291.57,283.30 295.00,283.30 C298.43,283.30 296.20,283.52 297.10,283.30 C298.00,283.08 299.42,282.43 300.40,282.00 C301.38,281.57 302.15,281.05 303.00,280.70 C303.85,280.35 304.67,280.15 305.50,279.90 C306.33,279.65 307.17,279.55 308.00,279.20 C308.83,278.85 309.60,278.40 310.50,277.80 C311.40,277.20 312.48,276.23 313.40,275.60 C314.32,274.97 315.20,274.43 316.00,274.00 C316.80,273.57 317.10,273.70 318.20,273.00 C319.30,272.30 321.33,270.87 322.60,269.80 C323.87,268.73 324.75,267.87 325.80,266.60 C326.85,265.33 327.85,263.25 328.90,262.20 C329.95,261.15 331.03,260.52 332.10,260.30 C333.17,260.08 334.35,261.00 335.30,260.90 C336.25,260.80 337.07,260.63 337.80,259.70 C338.53,258.77 339.18,257.10 339.70,255.30 C340.22,253.50 340.48,251.22 340.90,248.90 C341.32,246.58 341.80,243.88 342.20,241.40 C342.60,238.92 342.93,236.07 343.30,234.00 C343.67,231.93 344.03,230.70 344.40,229.00 C344.77,227.30 345.00,225.85 345.50,223.80 C346.00,221.75 346.77,218.47 347.40,216.70 C348.03,214.93 348.67,213.92 349.30,213.20 C349.93,212.48 350.55,212.25 351.20,212.40 C351.85,212.55 352.55,213.17 353.20,214.10 C353.85,215.03 354.47,216.60 355.10,218.00 C355.73,219.40 356.28,221.22 357.00,222.50 C357.72,223.78 358.65,225.48 359.40,225.70 C360.15,225.92 360.82,224.87 361.50,223.80 C362.18,222.73 362.85,220.80 363.50,219.30 C364.15,217.80 364.65,216.25 365.40,214.80 C366.15,213.35 367.13,211.57 368.00,210.60 C368.87,209.63 369.85,208.95 370.60,209.00 C371.35,209.05 371.87,209.73 372.50,210.90 C373.13,212.07 373.77,213.85 374.40,216.00 C375.03,218.15 375.78,221.63 376.30,223.80 C376.82,225.97 377.07,227.13 377.50,229.00 C377.93,230.87 378.35,232.50 378.90,235.00 C379.45,237.50 380.17,241.00 380.80,244.00 C381.43,247.00 382.05,250.00 382.70,253.00 C383.35,256.00 384.05,259.20 384.70,262.00 C385.35,264.80 385.85,267.43 386.60,269.80 C387.35,272.17 388.23,274.48 389.20,276.20 C390.17,277.92 391.23,279.13 392.40,280.10 C393.57,281.07 394.82,281.58 396.20,282.00 C397.58,282.42 398.40,282.38 400.70,282.60 C403.00,282.82 398.12,283.18 410.00,283.30 C421.88,283.42 461.67,283.30 472.00,283.30" fill="none" stroke="#ff0000" stroke-width="1.50" stroke-linejoin="round" stroke-linecap="round"/></g><line x1="374.70" y1="161.90" x2="374.70" y2="283.30" stroke="#333" stroke-width="1.8" stroke-dasharray="1.9 1.6"/><path d="M276.10,160.10 V283.30 H473.60" fill="none" stroke="#111" stroke-width="1.7"/><line x1="273.10" y1="283.30" x2="276.10" y2="283.30" stroke="#1a1a1a" stroke-width="1.5"/><text transform="translate(271.10,287.30) scale(1,1.12)" font-size="9" text-anchor="end">0.0</text><line x1="273.10" y1="245.40" x2="276.10" y2="245.40" stroke="#1a1a1a" stroke-width="1.5"/><text transform="translate(271.10,249.40) scale(1,1.12)" font-size="9" text-anchor="end">0.2</text><line x1="273.10" y1="207.50" x2="276.10" y2="207.50" stroke="#1a1a1a" stroke-width="1.5"/><text transform="translate(271.10,211.50) scale(1,1.12)" font-size="9" text-anchor="end">0.4</text><line x1="273.10" y1="169.60" x2="276.10" y2="169.60" stroke="#1a1a1a" stroke-width="1.5"/><text transform="translate(271.10,173.60) scale(1,1.12)" font-size="9" text-anchor="end">0.6</text><line x1="288.95" y1="283.30" x2="288.95" y2="286.50" stroke="#1a1a1a" stroke-width="1.4"/><text x="288.95" y="295.10" font-size="8.2" text-anchor="middle">-5</text><line x1="306.10" y1="283.30" x2="306.10" y2="286.50" stroke="#1a1a1a" stroke-width="1.4"/><text x="306.10" y="295.10" font-size="8.2" text-anchor="middle">-4</text><line x1="323.25" y1="283.30" x2="323.25" y2="286.50" stroke="#1a1a1a" stroke-width="1.4"/><text x="323.25" y="295.10" font-size="8.2" text-anchor="middle">-3</text><line x1="340.40" y1="283.30" x2="340.40" y2="286.50" stroke="#1a1a1a" stroke-width="1.4"/><text x="340.40" y="295.10" font-size="8.2" text-anchor="middle">-2</text><line x1="357.55" y1="283.30" x2="357.55" y2="286.50" stroke="#1a1a1a" stroke-width="1.4"/><text x="357.55" y="295.10" font-size="8.2" text-anchor="middle">-1</text><line x1="374.70" y1="283.30" x2="374.70" y2="286.50" stroke="#1a1a1a" stroke-width="1.4"/><text x="374.70" y="295.10" font-size="8.2" text-anchor="middle">0</text><line x1="391.85" y1="283.30" x2="391.85" y2="286.50" stroke="#1a1a1a" stroke-width="1.4"/><text x="391.85" y="295.10" font-size="8.2" text-anchor="middle">1</text><line x1="409.00" y1="283.30" x2="409.00" y2="286.50" stroke="#1a1a1a" stroke-width="1.4"/><text x="409.00" y="295.10" font-size="8.2" text-anchor="middle">2</text><line x1="426.15" y1="283.30" x2="426.15" y2="286.50" stroke="#1a1a1a" stroke-width="1.4"/><text x="426.15" y="295.10" font-size="8.2" text-anchor="middle">3</text><line x1="443.30" y1="283.30" x2="443.30" y2="286.50" stroke="#1a1a1a" stroke-width="1.4"/><text x="443.30" y="295.10" font-size="8.2" text-anchor="middle">4</text><line x1="460.45" y1="283.30" x2="460.45" y2="286.50" stroke="#1a1a1a" stroke-width="1.4"/><text x="460.45" y="295.10" font-size="8.2" text-anchor="middle">5</text><text x="374.70" y="306.30" font-size="8.5" text-anchor="middle">Z-score</text><text x="290.00" y="173.60" font-size="11.2">EU</text></g>
<g><path d="M38.20,318.90 H235.00" fill="none" stroke="#8a8a8a" stroke-width="1.60"/><path d="M235.00,318.10 V441.80" fill="none" stroke="#8e8e8e" stroke-width="1.6"/><clipPath id="cNA"><rect x="38.20" y="308.90" width="196.80" height="132.90"/></clipPath><g clip-path="url(#cNA)"><path d="M38.50,441.80 C45.42,441.80 72.38,442.02 80.00,441.80 C87.62,441.58 82.97,440.98 84.20,440.50 C85.43,440.02 86.35,439.42 87.40,438.90 C88.45,438.38 89.45,437.92 90.50,437.40 C91.55,436.88 92.65,436.37 93.70,435.80 C94.75,435.23 95.83,434.42 96.80,434.00 C97.77,433.58 98.53,433.55 99.50,433.30 C100.47,433.05 101.73,432.97 102.60,432.50 C103.47,432.03 104.03,431.33 104.70,430.50 C105.37,429.67 105.95,428.67 106.60,427.50 C107.25,426.33 108.00,425.00 108.60,423.50 C109.20,422.00 109.33,420.57 110.20,418.50 C111.07,416.43 112.45,413.97 113.80,411.10 C115.15,408.23 117.05,404.32 118.30,401.30 C119.55,398.28 120.42,395.63 121.30,393.00 C122.18,390.37 122.90,387.92 123.60,385.50 C124.30,383.08 125.03,380.40 125.50,378.50 C125.97,376.60 125.97,375.37 126.40,374.10 C126.83,372.83 127.52,371.65 128.10,370.90 C128.68,370.15 129.27,369.60 129.90,369.60 C130.53,369.60 131.20,370.15 131.90,370.90 C132.60,371.65 133.37,373.15 134.10,374.10 C134.83,375.05 135.65,376.45 136.30,376.60 C136.95,376.75 137.28,375.27 138.00,375.00 C138.72,374.73 139.68,374.83 140.60,375.00 C141.52,375.17 142.43,375.85 143.50,376.00 C144.57,376.15 146.05,375.73 147.00,375.90 C147.95,376.07 148.55,376.32 149.20,377.00 C149.85,377.68 150.42,378.50 150.90,380.00 C151.38,381.50 151.70,383.92 152.10,386.00 C152.50,388.08 152.88,390.50 153.30,392.50 C153.72,394.50 154.00,395.98 154.60,398.00 C155.20,400.02 155.98,402.30 156.90,404.60 C157.82,406.90 159.03,409.52 160.10,411.80 C161.17,414.08 162.23,416.55 163.30,418.30 C164.37,420.05 165.42,421.10 166.50,422.30 C167.58,423.50 168.85,424.15 169.80,425.50 C170.75,426.85 171.40,428.78 172.20,430.40 C173.00,432.02 173.67,433.78 174.60,435.20 C175.53,436.62 176.60,438.05 177.80,438.90 C179.00,439.75 180.05,439.98 181.80,440.30 C183.55,440.62 186.42,440.55 188.30,440.80 C190.18,441.05 191.15,441.63 193.10,441.80 C195.05,441.97 193.18,441.80 200.00,441.80 C206.82,441.80 228.33,441.80 234.00,441.80" fill="none" stroke="#0000ff" stroke-width="2.20" stroke-linejoin="round" stroke-linecap="round"/><path d="M38.50,441.80 C46.08,441.80 75.85,441.98 84.00,441.80 C92.15,441.62 86.13,441.18 87.40,440.70 C88.67,440.22 90.47,439.80 91.60,438.90 C92.73,438.00 93.42,436.78 94.20,435.30 C94.98,433.82 95.60,431.77 96.30,430.00 C97.00,428.23 97.70,426.45 98.40,424.70 C99.10,422.95 99.82,420.78 100.50,419.50 C101.18,418.22 101.78,417.78 102.50,417.00 C103.22,416.22 103.92,415.78 104.80,414.80 C105.68,413.82 106.93,412.73 107.80,411.10 C108.67,409.47 109.25,407.27 110.00,405.00 C110.75,402.73 111.67,400.25 112.30,397.50 C112.93,394.75 113.30,391.25 113.80,388.50 C114.30,385.75 114.87,383.25 115.30,381.00 C115.73,378.75 116.05,376.80 116.40,375.00 C116.75,373.20 116.92,372.93 117.40,370.20 C117.88,367.47 118.67,362.68 119.30,358.60 C119.93,354.52 120.55,349.98 121.20,345.70 C121.85,341.42 122.62,336.43 123.20,332.90 C123.78,329.37 124.23,326.27 124.70,324.50 C125.17,322.73 125.50,322.30 126.00,322.30 C126.50,322.30 127.13,322.73 127.70,324.50 C128.27,326.27 128.87,329.78 129.40,332.90 C129.93,336.02 130.40,339.77 130.90,343.20 C131.40,346.63 131.93,350.28 132.40,353.50 C132.87,356.72 133.27,359.72 133.70,362.50 C134.13,365.28 134.53,367.78 135.00,370.20 C135.47,372.62 136.02,374.70 136.50,377.00 C136.98,379.30 137.23,381.42 137.90,384.00 C138.57,386.58 139.68,389.58 140.50,392.50 C141.32,395.42 142.02,398.75 142.80,401.50 C143.58,404.25 144.33,406.58 145.20,409.00 C146.07,411.42 146.98,413.78 148.00,416.00 C149.02,418.22 150.22,420.32 151.30,422.30 C152.38,424.28 153.57,426.02 154.50,427.90 C155.43,429.78 156.10,431.85 156.90,433.60 C157.70,435.35 158.50,437.20 159.30,438.40 C160.10,439.60 160.50,440.23 161.70,440.80 C162.90,441.37 164.78,441.63 166.50,441.80 C168.22,441.97 160.75,441.80 172.00,441.80 C183.25,441.80 223.67,441.80 234.00,441.80" fill="none" stroke="#ffb000" stroke-width="1.40" stroke-linejoin="round" stroke-linecap="round"/><path d="M38.50,441.80 C45.08,441.80 70.90,441.80 78.00,441.80 C85.10,441.80 79.88,441.98 81.10,441.80 C82.32,441.62 83.90,440.92 85.30,440.70 C86.70,440.48 88.10,440.53 89.50,440.50 C90.90,440.47 92.57,440.85 93.70,440.50 C94.83,440.15 95.33,439.27 96.30,438.40 C97.27,437.53 98.55,436.37 99.50,435.30 C100.45,434.23 101.13,433.30 102.00,432.00 C102.87,430.70 103.98,429.07 104.70,427.50 C105.42,425.93 105.85,424.47 106.30,422.60 C106.75,420.73 107.02,418.57 107.40,416.30 C107.78,414.03 108.28,410.72 108.60,409.00 C108.92,407.28 108.93,408.17 109.30,406.00 C109.67,403.83 110.30,399.17 110.80,396.00 C111.30,392.83 111.68,389.25 112.30,387.00 C112.92,384.75 113.75,383.75 114.50,382.50 C115.25,381.25 116.17,380.75 116.80,379.50 C117.43,378.25 117.95,376.55 118.30,375.00 C118.65,373.45 118.52,372.93 118.90,370.20 C119.28,367.47 120.00,362.03 120.60,358.60 C121.20,355.17 121.82,351.95 122.50,349.60 C123.18,347.25 123.95,345.03 124.70,344.50 C125.45,343.97 126.28,345.23 127.00,346.40 C127.72,347.57 128.35,349.68 129.00,351.50 C129.65,353.32 130.27,355.25 130.90,357.30 C131.53,359.35 132.15,361.87 132.80,363.80 C133.45,365.73 134.05,367.40 134.80,368.90 C135.55,370.40 136.55,371.57 137.30,372.80 C138.05,374.03 138.75,374.85 139.30,376.30 C139.85,377.75 140.22,379.80 140.60,381.50 C140.98,383.20 141.18,384.25 141.60,386.50 C142.02,388.75 142.45,392.08 143.10,395.00 C143.75,397.92 144.65,401.75 145.50,404.00 C146.35,406.25 147.35,407.25 148.20,408.50 C149.05,409.75 149.88,410.50 150.60,411.50 C151.32,412.50 151.73,413.17 152.50,414.50 C153.27,415.83 154.20,418.07 155.20,419.50 C156.20,420.93 157.55,421.70 158.50,423.10 C159.45,424.50 160.10,426.28 160.90,427.90 C161.70,429.52 162.37,431.32 163.30,432.80 C164.23,434.28 165.28,435.78 166.50,436.80 C167.72,437.82 169.12,438.37 170.60,438.90 C172.08,439.43 173.80,439.68 175.40,440.00 C177.00,440.32 178.10,440.50 180.20,440.80 C182.30,441.10 179.03,441.63 188.00,441.80 C196.97,441.97 226.33,441.80 234.00,441.80" fill="none" stroke="#ff0000" stroke-width="1.50" stroke-linejoin="round" stroke-linecap="round"/></g><line x1="137.00" y1="320.40" x2="137.00" y2="441.80" stroke="#333" stroke-width="1.8" stroke-dasharray="1.9 1.6"/><path d="M38.20,318.60 V441.80 H235.70" fill="none" stroke="#111" stroke-width="1.7"/><line x1="35.20" y1="441.80" x2="38.20" y2="441.80" stroke="#1a1a1a" stroke-width="1.5"/><text transform="translate(33.20,445.80) scale(1,1.12)" font-size="9" text-anchor="end">0.0</text><line x1="35.20" y1="403.90" x2="38.20" y2="403.90" stroke="#1a1a1a" stroke-width="1.5"/><text transform="translate(33.20,407.90) scale(1,1.12)" font-size="9" text-anchor="end">0.2</text><line x1="35.20" y1="366.00" x2="38.20" y2="366.00" stroke="#1a1a1a" stroke-width="1.5"/><text transform="translate(33.20,370.00) scale(1,1.12)" font-size="9" text-anchor="end">0.4</text><line x1="35.20" y1="328.10" x2="38.20" y2="328.10" stroke="#1a1a1a" stroke-width="1.5"/><text transform="translate(33.20,332.10) scale(1,1.12)" font-size="9" text-anchor="end">0.6</text><line x1="51.00" y1="441.80" x2="51.00" y2="445.00" stroke="#1a1a1a" stroke-width="1.4"/><text x="51.00" y="453.60" font-size="8.2" text-anchor="middle">-5</text><line x1="68.20" y1="441.80" x2="68.20" y2="445.00" stroke="#1a1a1a" stroke-width="1.4"/><text x="68.20" y="453.60" font-size="8.2" text-anchor="middle">-4</text><line x1="85.40" y1="441.80" x2="85.40" y2="445.00" stroke="#1a1a1a" stroke-width="1.4"/><text x="85.40" y="453.60" font-size="8.2" text-anchor="middle">-3</text><line x1="102.60" y1="441.80" x2="102.60" y2="445.00" stroke="#1a1a1a" stroke-width="1.4"/><text x="102.60" y="453.60" font-size="8.2" text-anchor="middle">-2</text><line x1="119.80" y1="441.80" x2="119.80" y2="445.00" stroke="#1a1a1a" stroke-width="1.4"/><text x="119.80" y="453.60" font-size="8.2" text-anchor="middle">-1</text><line x1="137.00" y1="441.80" x2="137.00" y2="445.00" stroke="#1a1a1a" stroke-width="1.4"/><text x="137.00" y="453.60" font-size="8.2" text-anchor="middle">0</text><line x1="154.20" y1="441.80" x2="154.20" y2="445.00" stroke="#1a1a1a" stroke-width="1.4"/><text x="154.20" y="453.60" font-size="8.2" text-anchor="middle">1</text><line x1="171.40" y1="441.80" x2="171.40" y2="445.00" stroke="#1a1a1a" stroke-width="1.4"/><text x="171.40" y="453.60" font-size="8.2" text-anchor="middle">2</text><line x1="188.60" y1="441.80" x2="188.60" y2="445.00" stroke="#1a1a1a" stroke-width="1.4"/><text x="188.60" y="453.60" font-size="8.2" text-anchor="middle">3</text><line x1="205.80" y1="441.80" x2="205.80" y2="445.00" stroke="#1a1a1a" stroke-width="1.4"/><text x="205.80" y="453.60" font-size="8.2" text-anchor="middle">4</text><line x1="223.00" y1="441.80" x2="223.00" y2="445.00" stroke="#1a1a1a" stroke-width="1.4"/><text x="223.00" y="453.60" font-size="8.2" text-anchor="middle">5</text><text x="137.00" y="464.80" font-size="8.5" text-anchor="middle">Z-score</text><text x="52.10" y="332.10" font-size="11.2">NA</text></g>
<g><path d="M276.10,318.90 H472.90" fill="none" stroke="#8a8a8a" stroke-width="1.60"/><path d="M472.90,318.10 V441.80" fill="none" stroke="#8e8e8e" stroke-width="1.6"/><clipPath id="cSA"><rect x="276.10" y="308.90" width="196.80" height="132.90"/></clipPath><g clip-path="url(#cSA)"><path d="M276.50,441.80 C282.08,441.80 303.10,441.95 310.00,441.80 C316.90,441.65 315.67,441.03 317.90,440.90 C320.13,440.77 321.78,441.10 323.40,441.00 C325.02,440.90 326.32,440.82 327.60,440.30 C328.88,439.78 329.87,438.48 331.10,437.90 C332.33,437.32 333.72,437.22 335.00,436.80 C336.28,436.38 337.53,436.17 338.80,435.40 C340.07,434.63 341.33,433.37 342.60,432.20 C343.87,431.03 345.35,429.55 346.40,428.40 C347.45,427.25 348.17,426.67 348.90,425.30 C349.63,423.93 350.17,422.10 350.80,420.20 C351.43,418.30 352.13,415.93 352.70,413.90 C353.27,411.87 353.70,409.85 354.20,408.00 C354.70,406.15 355.12,404.95 355.70,402.80 C356.28,400.65 357.05,397.68 357.70,395.10 C358.35,392.52 358.97,390.10 359.60,387.30 C360.23,384.50 360.90,381.08 361.50,378.30 C362.10,375.52 362.65,372.95 363.20,370.60 C363.75,368.25 364.22,365.87 364.80,364.20 C365.38,362.53 365.95,361.30 366.70,360.60 C367.45,359.90 368.45,360.30 369.30,360.00 C370.15,359.70 370.95,359.22 371.80,358.80 C372.65,358.38 373.53,357.57 374.40,357.50 C375.27,357.43 376.13,357.72 377.00,358.40 C377.87,359.08 378.85,360.43 379.60,361.60 C380.35,362.77 380.87,363.68 381.50,365.40 C382.13,367.12 382.75,369.53 383.40,371.90 C384.05,374.27 384.83,377.25 385.40,379.60 C385.97,381.95 386.33,383.82 386.80,386.00 C387.27,388.18 387.65,390.28 388.20,392.70 C388.75,395.12 389.45,397.92 390.10,400.50 C390.75,403.08 391.33,405.63 392.10,408.20 C392.87,410.77 393.85,413.87 394.70,415.90 C395.55,417.93 396.25,419.12 397.20,420.40 C398.15,421.68 399.43,422.32 400.40,423.60 C401.37,424.88 402.13,426.60 403.00,428.10 C403.87,429.60 404.73,431.52 405.60,432.60 C406.47,433.68 407.13,434.27 408.20,434.60 C409.27,434.93 410.93,434.60 412.00,434.60 C413.07,434.60 413.73,434.33 414.60,434.60 C415.47,434.87 416.13,435.67 417.20,436.20 C418.27,436.73 419.72,437.32 421.00,437.80 C422.28,438.28 423.60,438.70 424.90,439.10 C426.20,439.50 427.52,439.93 428.80,440.20 C430.08,440.47 431.17,440.60 432.60,440.70 C434.03,440.80 435.83,440.95 437.40,440.80 C438.97,440.65 440.65,439.88 442.00,439.80 C443.35,439.72 444.33,440.10 445.50,440.30 C446.67,440.50 447.85,440.75 449.00,441.00 C450.15,441.25 448.57,441.67 452.40,441.80 C456.23,441.93 468.73,441.80 472.00,441.80" fill="none" stroke="#0000ff" stroke-width="2.20" stroke-linejoin="round" stroke-linecap="round"/><path d="M276.50,441.80 C280.42,441.80 295.33,441.80 300.00,441.80 C304.67,441.80 303.25,441.93 304.50,441.80 C305.75,441.67 306.58,441.30 307.50,441.00 C308.42,440.70 308.95,440.68 310.00,440.00 C311.05,439.32 312.48,438.30 313.80,436.90 C315.12,435.50 316.53,433.42 317.90,431.60 C319.27,429.78 320.73,427.85 322.00,426.00 C323.27,424.15 324.45,422.35 325.50,420.50 C326.55,418.65 327.38,416.90 328.30,414.90 C329.22,412.90 330.25,410.57 331.00,408.50 C331.75,406.43 332.10,404.72 332.80,402.50 C333.50,400.28 334.45,397.52 335.20,395.20 C335.95,392.88 336.55,390.55 337.30,388.60 C338.05,386.65 338.88,385.22 339.70,383.50 C340.52,381.78 341.35,379.92 342.20,378.30 C343.05,376.68 343.83,374.92 344.80,373.80 C345.77,372.68 346.93,371.92 348.00,371.60 C349.07,371.28 350.12,371.63 351.20,371.90 C352.28,372.17 353.42,372.57 354.50,373.20 C355.58,373.83 356.63,374.80 357.70,375.70 C358.77,376.60 359.83,377.73 360.90,378.60 C361.97,379.47 363.13,379.77 364.10,380.90 C365.07,382.03 365.95,383.68 366.70,385.40 C367.45,387.12 367.98,389.27 368.60,391.20 C369.22,393.13 369.78,395.28 370.40,397.00 C371.02,398.72 371.70,400.17 372.30,401.50 C372.90,402.83 373.38,403.67 374.00,405.00 C374.62,406.33 375.17,407.87 376.00,409.50 C376.83,411.13 377.93,413.02 379.00,414.80 C380.07,416.58 381.35,418.50 382.40,420.20 C383.45,421.90 384.37,423.40 385.30,425.00 C386.23,426.60 387.10,428.35 388.00,429.80 C388.90,431.25 389.70,432.53 390.70,433.70 C391.70,434.87 392.58,435.80 394.00,436.80 C395.42,437.80 397.27,439.07 399.20,439.70 C401.13,440.33 403.25,440.35 405.60,440.60 C407.95,440.85 402.23,441.00 413.30,441.20 C424.37,441.40 462.22,441.70 472.00,441.80" fill="none" stroke="#ffb000" stroke-width="1.40" stroke-linejoin="round" stroke-linecap="round"/><path d="M276.50,441.80 C277.12,441.68 278.88,441.30 280.20,441.10 C281.52,440.90 283.00,440.68 284.40,440.60 C285.80,440.52 287.20,440.55 288.60,440.60 C290.00,440.65 291.67,440.90 292.80,440.90 C293.93,440.90 294.53,441.00 295.40,440.60 C296.27,440.20 296.98,439.35 298.00,438.50 C299.02,437.65 300.33,436.53 301.50,435.50 C302.67,434.47 303.83,433.47 305.00,432.30 C306.17,431.13 307.42,429.72 308.50,428.50 C309.58,427.28 310.50,426.33 311.50,425.00 C312.50,423.67 313.43,422.17 314.50,420.50 C315.57,418.83 316.88,416.35 317.90,415.00 C318.92,413.65 319.57,413.23 320.60,412.40 C321.63,411.57 323.05,410.98 324.10,410.00 C325.15,409.02 325.97,407.90 326.90,406.50 C327.83,405.10 328.77,403.18 329.70,401.60 C330.63,400.02 331.53,398.52 332.50,397.00 C333.47,395.48 334.52,394.12 335.50,392.50 C336.48,390.88 337.50,389.02 338.40,387.30 C339.30,385.58 340.15,383.52 340.90,382.20 C341.65,380.88 342.25,380.08 342.90,379.40 C343.55,378.72 343.95,378.17 344.80,378.10 C345.65,378.03 346.82,378.43 348.00,379.00 C349.18,379.57 350.62,380.43 351.90,381.50 C353.18,382.57 354.42,384.00 355.70,385.40 C356.98,386.80 358.30,388.28 359.60,389.90 C360.90,391.52 362.32,393.38 363.50,395.10 C364.68,396.82 365.87,398.75 366.70,400.20 C367.53,401.65 367.88,402.57 368.50,403.80 C369.12,405.03 369.67,406.13 370.40,407.60 C371.13,409.07 372.07,411.23 372.90,412.60 C373.73,413.97 374.45,414.63 375.40,415.80 C376.35,416.97 377.55,418.13 378.60,419.60 C379.65,421.07 380.65,423.03 381.70,424.60 C382.75,426.17 383.82,427.63 384.90,429.00 C385.98,430.37 387.00,431.58 388.20,432.80 C389.40,434.02 390.70,435.27 392.10,436.30 C393.50,437.33 395.00,438.37 396.60,439.00 C398.20,439.63 399.77,439.77 401.70,440.10 C403.63,440.43 405.15,440.72 408.20,441.00 C411.25,441.28 409.37,441.67 420.00,441.80 C430.63,441.93 463.33,441.80 472.00,441.80" fill="none" stroke="#ff0000" stroke-width="1.50" stroke-linejoin="round" stroke-linecap="round"/></g><line x1="374.70" y1="320.40" x2="374.70" y2="441.80" stroke="#333" stroke-width="1.8" stroke-dasharray="1.9 1.6"/><path d="M276.10,318.60 V441.80 H473.60" fill="none" stroke="#111" stroke-width="1.7"/><line x1="273.10" y1="441.80" x2="276.10" y2="441.80" stroke="#1a1a1a" stroke-width="1.5"/><text transform="translate(271.10,445.80) scale(1,1.12)" font-size="9" text-anchor="end">0.0</text><line x1="273.10" y1="403.90" x2="276.10" y2="403.90" stroke="#1a1a1a" stroke-width="1.5"/><text transform="translate(271.10,407.90) scale(1,1.12)" font-size="9" text-anchor="end">0.2</text><line x1="273.10" y1="366.00" x2="276.10" y2="366.00" stroke="#1a1a1a" stroke-width="1.5"/><text transform="translate(271.10,370.00) scale(1,1.12)" font-size="9" text-anchor="end">0.4</text><line x1="273.10" y1="328.10" x2="276.10" y2="328.10" stroke="#1a1a1a" stroke-width="1.5"/><text transform="translate(271.10,332.10) scale(1,1.12)" font-size="9" text-anchor="end">0.6</text><line x1="288.95" y1="441.80" x2="288.95" y2="445.00" stroke="#1a1a1a" stroke-width="1.4"/><text x="288.95" y="453.60" font-size="8.2" text-anchor="middle">-5</text><line x1="306.10" y1="441.80" x2="306.10" y2="445.00" stroke="#1a1a1a" stroke-width="1.4"/><text x="306.10" y="453.60" font-size="8.2" text-anchor="middle">-4</text><line x1="323.25" y1="441.80" x2="323.25" y2="445.00" stroke="#1a1a1a" stroke-width="1.4"/><text x="323.25" y="453.60" font-size="8.2" text-anchor="middle">-3</text><line x1="340.40" y1="441.80" x2="340.40" y2="445.00" stroke="#1a1a1a" stroke-width="1.4"/><text x="340.40" y="453.60" font-size="8.2" text-anchor="middle">-2</text><line x1="357.55" y1="441.80" x2="357.55" y2="445.00" stroke="#1a1a1a" stroke-width="1.4"/><text x="357.55" y="453.60" font-size="8.2" text-anchor="middle">-1</text><line x1="374.70" y1="441.80" x2="374.70" y2="445.00" stroke="#1a1a1a" stroke-width="1.4"/><text x="374.70" y="453.60" font-size="8.2" text-anchor="middle">0</text><line x1="391.85" y1="441.80" x2="391.85" y2="445.00" stroke="#1a1a1a" stroke-width="1.4"/><text x="391.85" y="453.60" font-size="8.2" text-anchor="middle">1</text><line x1="409.00" y1="441.80" x2="409.00" y2="445.00" stroke="#1a1a1a" stroke-width="1.4"/><text x="409.00" y="453.60" font-size="8.2" text-anchor="middle">2</text><line x1="426.15" y1="441.80" x2="426.15" y2="445.00" stroke="#1a1a1a" stroke-width="1.4"/><text x="426.15" y="453.60" font-size="8.2" text-anchor="middle">3</text><line x1="443.30" y1="441.80" x2="443.30" y2="445.00" stroke="#1a1a1a" stroke-width="1.4"/><text x="443.30" y="453.60" font-size="8.2" text-anchor="middle">4</text><line x1="460.45" y1="441.80" x2="460.45" y2="445.00" stroke="#1a1a1a" stroke-width="1.4"/><text x="460.45" y="453.60" font-size="8.2" text-anchor="middle">5</text><text x="374.70" y="464.80" font-size="8.5" text-anchor="middle">Z-score</text><text x="290.00" y="332.10" font-size="11.2">SA</text></g>
<line x1="165" y1="12.00" x2="183" y2="12.00" stroke="#0000ff" stroke-width="2"/><text x="189.8" y="15.20" font-size="8.3">1981-2000</text><line x1="165" y1="19.85" x2="183" y2="19.85" stroke="#ffb000" stroke-width="2"/><text x="189.8" y="23.05" font-size="8.3">2001-2010</text><line x1="165" y1="27.70" x2="183" y2="27.70" stroke="#ff0000" stroke-width="2"/><text x="189.8" y="30.90" font-size="8.3">2011-2021</text>
<text transform="translate(9.9,218.6) rotate(-90)" font-size="10.5" font-weight="bold" text-anchor="middle">Density</text>
</svg></body></html>
